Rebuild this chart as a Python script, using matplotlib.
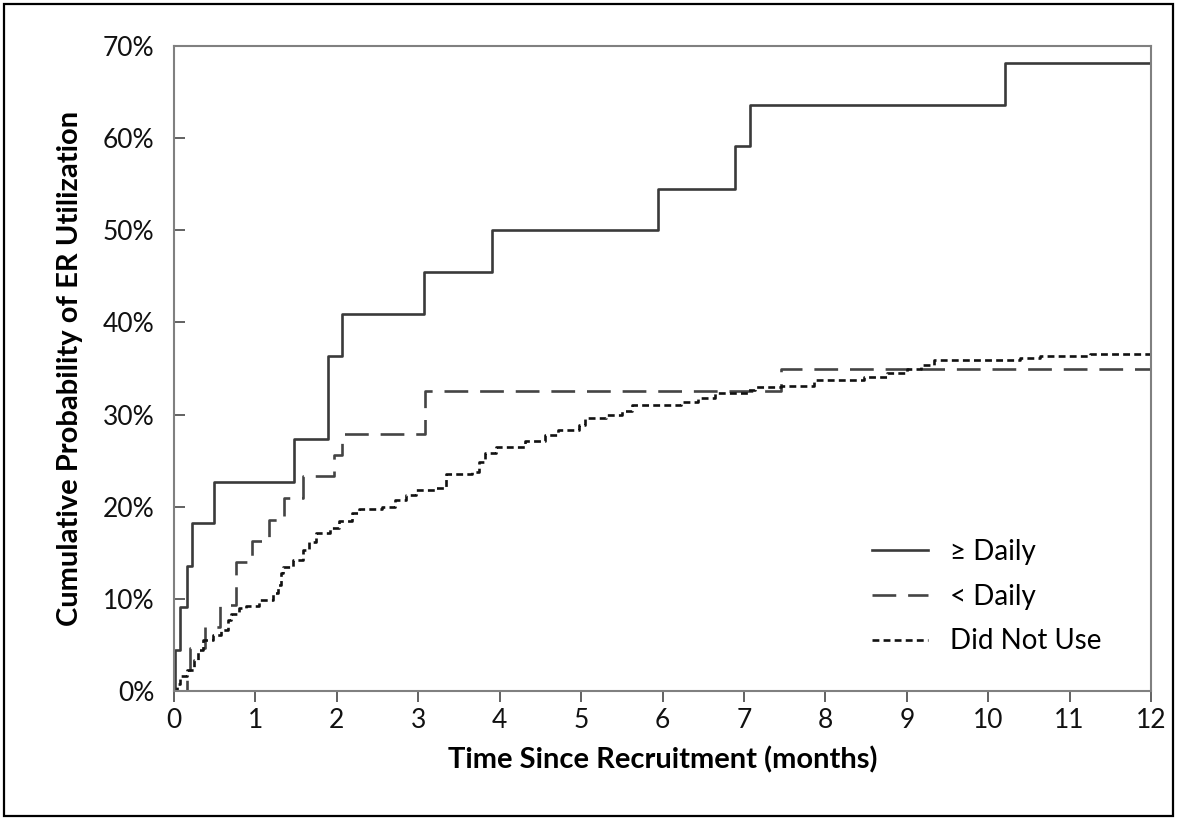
import numpy as np
import matplotlib
matplotlib.use("Agg")
import matplotlib.pyplot as plt
from matplotlib.lines import Line2D
from matplotlib.patches import Rectangle
from matplotlib.ticker import FuncFormatter

plt.rcParams['font.family'] = ['Lato', 'DejaVu Sans']

# ---- data (months, % cumulative) ----
daily_t = [0, 0.01, 0.07, 0.16, 0.22, 0.49, 1.47, 1.89, 2.06, 3.07, 3.91, 5.94, 6.89, 7.07, 10.21, 12]
daily_p = [0, 4.5, 9.1, 13.6, 18.2, 22.7, 27.3, 36.4, 40.9, 45.5, 50.0, 54.5, 59.1, 63.6, 68.2, 68.2]

less_t = [0, 0.16, 0.20, 0.38, 0.57, 0.76, 0.96, 1.17, 1.35, 1.58, 1.96, 2.06, 3.08, 7.45, 12]
less_p = [0, 2.3, 4.7, 7.0, 9.3, 14.0, 16.3, 18.6, 20.9, 23.3, 25.6, 27.9, 32.6, 34.9, 34.9]

none_t = [0, 0.04, 0.07, 0.155, 0.24, 0.30, 0.36, 0.48, 0.58, 0.66, 0.70, 0.80, 0.89, 1.05,
          1.21, 1.28, 1.32, 1.34, 1.46, 1.58, 1.66, 1.74, 1.91, 2.03, 2.19, 2.27, 2.56, 2.72,
          2.85, 2.97, 3.21, 3.34, 3.66, 3.75, 3.82, 3.95, 4.31, 4.56, 4.72, 4.97, 5.05, 5.30,
          5.50, 5.62, 6.23, 6.43, 6.64, 7.05, 7.13, 7.45, 7.86, 8.47, 8.76, 9.00, 9.17, 9.33,
          10.39, 10.64, 11.25, 12]
none_p = [0, 0.8, 1.6, 2.3, 3.4, 4.5, 5.5, 6.1, 6.6, 7.7, 8.4, 9.0, 9.2, 9.9,
          10.6, 11.5, 12.8, 13.5, 14.2, 15.3, 16.2, 17.1, 17.7, 18.4, 19.3, 19.7, 20.0, 20.7,
          21.3, 21.8, 22.0, 23.5, 23.8, 24.8, 25.8, 26.5, 27.1, 27.8, 28.3, 28.9, 29.6, 30.0,
          30.4, 31.0, 31.4, 31.8, 32.3, 32.7, 33.0, 33.1, 33.8, 34.1, 34.5, 35.0, 35.4, 35.9,
          36.1, 36.4, 36.6, 36.6]

labels = ["\u2265 Daily", "< Daily", "Did Not Use"]

fig = plt.figure(figsize=(11.77, 8.18), dpi=100)
ax = fig.add_axes([174 / 1177, 1 - 691 / 818, 977 / 1177, 645 / 818])

line_col = "#3a3a3a"
ax.step(daily_t, daily_p, where="post", color=line_col, lw=1.9)
ax.step(less_t, less_p, where="post", color="#444444", lw=1.9, dashes=(9, 4.5))
ax.step(none_t, none_p, where="post", color="#111111", lw=1.9, dashes=(2.6, 1.6))

ax.set_xlim(0, 12)
ax.set_ylim(0, 70)
ax.set_xticks(np.arange(0, 13, 1))
ax.set_yticks(np.arange(0, 71, 10))
ax.yaxis.set_major_formatter(FuncFormatter(lambda v, p: f"{v:.0f}%"))

for s in ax.spines.values():
    s.set_color("#808080")
    s.set_linewidth(1.5)
ax.tick_params(axis="x", direction="out", length=8, width=1.3, color="#555555",
               labelsize=19, pad=4, labelcolor="#111111")
ax.tick_params(axis="y", direction="in", length=8, width=1.3, color="#555555",
               labelsize=19, pad=14, labelcolor="#111111")

ax.set_xlabel("Time Since Recruitment (months)", fontsize=21, fontweight="bold", labelpad=10)
ax.set_ylabel("Cumulative Probability of ER Utilization", fontsize=21, fontweight="bold", labelpad=14)

handles = [Line2D([], [], color=line_col, lw=1.9),
           Line2D([], [], color="#444444", lw=1.9, dashes=(9, 4.5)),
           Line2D([], [], color="#111111", lw=1.9, dashes=(2.6, 1.6))]
ax.legend(handles, labels, loc="lower right", bbox_to_anchor=(0.975, 0.018), frameon=False,
          fontsize=20, handlelength=2.0, labelspacing=0.68, handletextpad=0.8)

# figure border
fig.add_artist(Rectangle((0.003, 0.002), 0.994, 0.993, transform=fig.transFigure,
                         fill=False, edgecolor="black", lw=1.6))

fig.savefig("out.png", dpi=100)
